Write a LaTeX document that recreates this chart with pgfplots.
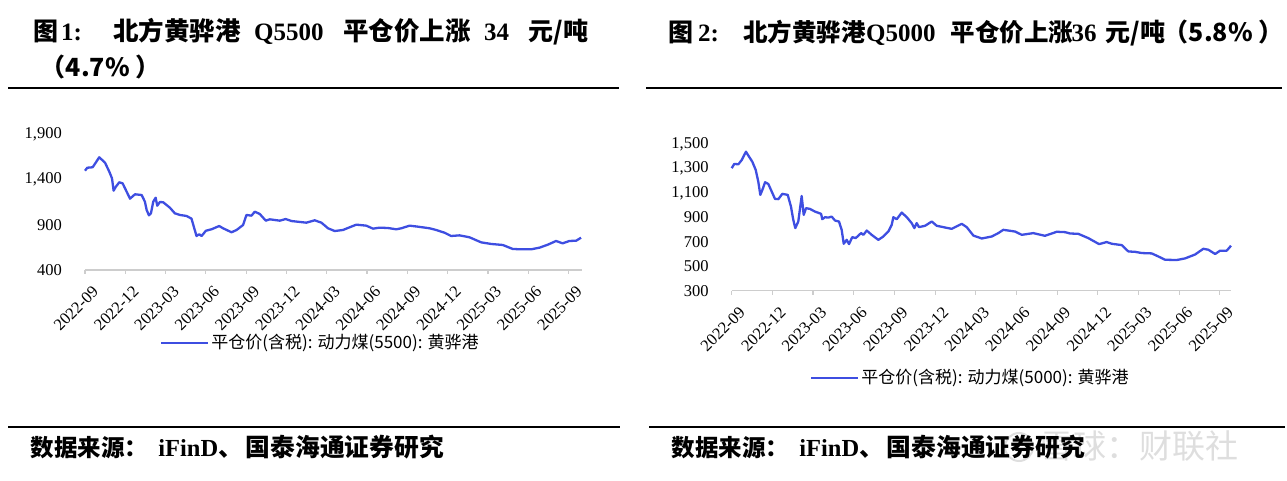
\documentclass[border=0pt]{standalone}
\usepackage{pgfplots}
\pgfplotsset{compat=1.18}
\usepackage{fontspec}
\setmainfont{Liberation Serif}
\newfontfamily\cjk{Noto Sans CJK SC}
\definecolor{lineblue}{RGB}{62,78,225}
\definecolor{axgray}{RGB}{205,205,205}
\newcommand{\T}[1][25]{\fontsize{#1}{#1}\selectfont\bfseries}
\newcommand{\C}[1][24]{\cjk\fontsize{#1}{#1}\selectfont\bfseries}
\newcommand{\tickfont}{\fontsize{16.5}{16.5}\selectfont}

\pgfplotstableread{
m v
0.00 1495
0.17 1528
0.57 1533
1.06 1643
1.49 1584
1.81 1484
2.01 1411
2.13 1275
2.30 1319
2.55 1367
2.80 1356
3.10 1264
3.35 1187
3.72 1235
4.22 1227
4.46 1153
4.59 1062
4.76 1003
4.91 1025
5.08 1153
5.26 1197
5.38 1109
5.58 1150
5.82 1147
6.32 1087
6.69 1025
7.06 1007
7.56 996
7.93 966
8.10 878
8.30 775
8.50 794
8.68 775
9.00 833
9.42 849
9.99 885
10.28 860
10.91 816
11.28 841
11.77 896
12.02 1007
12.39 999
12.64 1043
13.01 1018
13.46 944
13.75 959
14.50 944
14.94 962
15.37 940
16.48 922
17.10 948
17.60 922
18.09 860
18.59 830
19.20 841
19.70 871
20.20 900
20.94 889
21.44 856
21.93 867
22.55 863
23.17 849
23.55 860
24.16 889
24.78 878
25.65 860
26.15 841
26.77 811
27.26 775
27.88 782
28.62 761
29.49 705
30.24 687
31.10 676
31.84 632
32.47 628
33.21 628
33.83 646
34.45 679
35.07 720
35.56 694
36.06 720
36.56 723
36.93 756
}\leftdata

\pgfplotstableread{
m v
0.00 1302
0.19 1337
0.49 1334
0.74 1369
1.05 1437
1.28 1396
1.52 1355
1.77 1288
1.96 1192
2.11 1084
2.26 1124
2.46 1187
2.70 1173
2.95 1111
3.19 1051
3.44 1049
3.73 1092
4.13 1084
4.37 988
4.54 880
4.69 812
4.91 866
5.04 975
5.16 1075
5.31 920
5.48 975
5.77 969
6.14 947
6.59 929
6.68 885
6.88 901
7.12 898
7.37 906
7.62 874
7.91 866
8.11 798
8.26 684
8.48 716
8.65 681
8.89 738
9.14 730
9.54 771
9.71 757
9.96 792
10.32 757
10.81 716
11.18 743
11.55 784
11.80 839
11.92 901
12.17 885
12.54 939
12.91 901
13.27 853
13.47 812
13.64 853
13.81 820
14.26 831
14.75 866
15.12 831
15.60 820
16.22 806
16.96 847
17.33 820
17.82 751
18.44 727
19.17 743
19.66 771
20.03 798
20.89 784
21.39 757
22.24 771
23.10 749
23.97 782
24.58 779
24.95 768
25.56 765
26.30 730
27.09 681
27.65 698
28.02 684
28.76 673
29.25 621
29.74 618
30.24 608
30.97 605
31.46 580
31.96 553
32.82 551
33.43 564
34.17 596
34.78 643
35.15 635
35.65 600
36.01 627
36.50 627
36.82 668
}\rightdata

\pgfplotsset{
  coalstyle/.style={
    scale only axis, clip=false,
    axis lines*=left,
    y axis line style={draw=none},
    x axis line style={axgray, line width=1.5pt},
    xtick={0,3,...,36},
    xticklabels={2022-09,2022-12,2023-03,2023-06,2023-09,2023-12,2024-03,2024-06,2024-09,2024-12,2025-03,2025-06,2025-09},
    tick align=outside,
    major tick length=4pt,
    xtick style={axgray, line width=1.2pt},
    ytick style={draw=none},
    tick label style={font=\tickfont},
    xticklabel style={font=\tickfont, rotate=45, anchor=east, inner sep=0pt, xshift=-3pt, yshift=-18pt},
    yticklabel style={font=\tickfont, anchor=east, inner sep=0pt, xshift=-19pt},
    /pgf/number format/1000 sep={,},
    /pgf/number format/assume math mode=true,
    legend image code/.code={\draw[##1] (0pt,0pt) -- (47pt,0pt);},
    legend style={draw=none, fill=none, inner sep=0pt, outer sep=0pt,
      font=\cjk\fontsize{17}{17}\selectfont, nodes={inner sep=2pt}, anchor=west},
  }
}

\begin{document}
\tickfont
\begin{tikzpicture}[x=1pt,y=1pt]
\useasboundingbox (0,0) rectangle (1287,481);

% watermark (behind)
\draw[black!13, line width=2pt] (1019,34) circle (14);
\node[anchor=base west, inner sep=0pt, text=black!13] at (1040,22) {\cjk\fontsize{33}{33}\selectfont 雪球：财联社};

\begin{axis}[coalstyle,
  at={(85pt,211pt)}, anchor=south west,
  width=497pt, height=136pt,
  xmin=0, xmax=37, ymin=400, ymax=1900,
  ytick={400,900,1400,1900},
  legend style={at={(axis description cs:0.151,-0.537)}},
]
\addplot[lineblue, line width=2.3pt, line join=round] table[x=m,y=v] {\leftdata};
\addlegendentry{平仓价(含税): 动力煤(5500): 黄骅港}
\end{axis}

\begin{axis}[coalstyle,
  at={(731.7pt,190.3pt)}, anchor=south west,
  width=499.3pt, height=146.7pt,
  xmin=0, xmax=36.82, ymin=300, ymax=1500,
  ytick={300,500,700,900,1100,1300,1500},
  legend style={at={(axis description cs:0.157,-0.595)}},
]
\addplot[lineblue, line width=2.3pt, line join=round] table[x=m,y=v] {\rightdata};
\addlegendentry{平仓价(含税): 动力煤(5000): 黄骅港}
\end{axis}

% Left title
\node[anchor=base west, inner sep=0pt] at (28,440) {\C[25] 图};
\node[anchor=base west, inner sep=0pt] at (61,440) {\T 1:};
\node[anchor=base west, inner sep=0pt] at (107,440) {\C[25.5] 北方黄骅港};
\node[anchor=base west, inner sep=0pt] at (254,440) {\T Q5500};
\node[anchor=base west, inner sep=0pt] at (337,440) {\C[25.5] 平仓价上涨};
\node[anchor=base west, inner sep=0pt] at (484,440) {\T 34};
\node[anchor=base west, inner sep=0pt] at (523,440) {\C[25] 元\T /\C[25]吨};
\node[anchor=base west, inner sep=0pt] at (35,404) {\C[25] （\T 4.7\%\C[25] ）};
\draw[line width=2.3pt] (8,393) -- (619,393);

% Right title
\node[anchor=base west, inner sep=0pt] at (663,439.5) {\C[25] 图};
\node[anchor=base west, inner sep=0pt] at (698,439.5) {\T 2:};
\node[anchor=base west, inner sep=0pt] at (737.5,439.5) {\C[24.5] 北方黄骅港};
\node[anchor=base west, inner sep=0pt] at (866,439.5) {\T Q5000};
\node[anchor=base west, inner sep=0pt] at (945,439.5) {\C[24.5] 平仓价上涨};
\node[anchor=base west, inner sep=0pt] at (1071.5,439.5) {\T 36};
\node[anchor=base west, inner sep=0pt] at (1100,439.5) {\C[25] 元\T /\C[25]吨};
\node[anchor=base west, inner sep=0pt] at (1158,439.5) {\C[25] （\T 5.8\%\C[25] ）};
\draw[line width=2.3pt] (646,393) -- (1282,393);

% Bottom rules and sources
\draw[line width=2.3pt] (8,54) -- (620,54);
\draw[line width=2.3pt] (649,54) -- (1285,54);

\node[anchor=base west, inner sep=0pt] at (25,24.5) {\C[23.5] 数据来源：};
\node[anchor=base west, inner sep=0pt] at (152,24.5) {\T[24.5] iFinD};
\node[anchor=base west, inner sep=0pt] at (213,24.5) {\C[24.5] 、};
\node[anchor=base west, inner sep=0pt] at (240,24.5) {\C[24.75] 国泰海通证券研究};

\node[anchor=base west, inner sep=0pt] at (666,24.5) {\C[23.5] 数据来源：};
\node[anchor=base west, inner sep=0pt] at (793,24.5) {\T[24.5] iFinD};
\node[anchor=base west, inner sep=0pt] at (854,24.5) {\C[24.5] 、};
\node[anchor=base west, inner sep=0pt] at (881,24.5) {\C[24.75] 国泰海通证券研究};
\end{tikzpicture}
\end{document}
